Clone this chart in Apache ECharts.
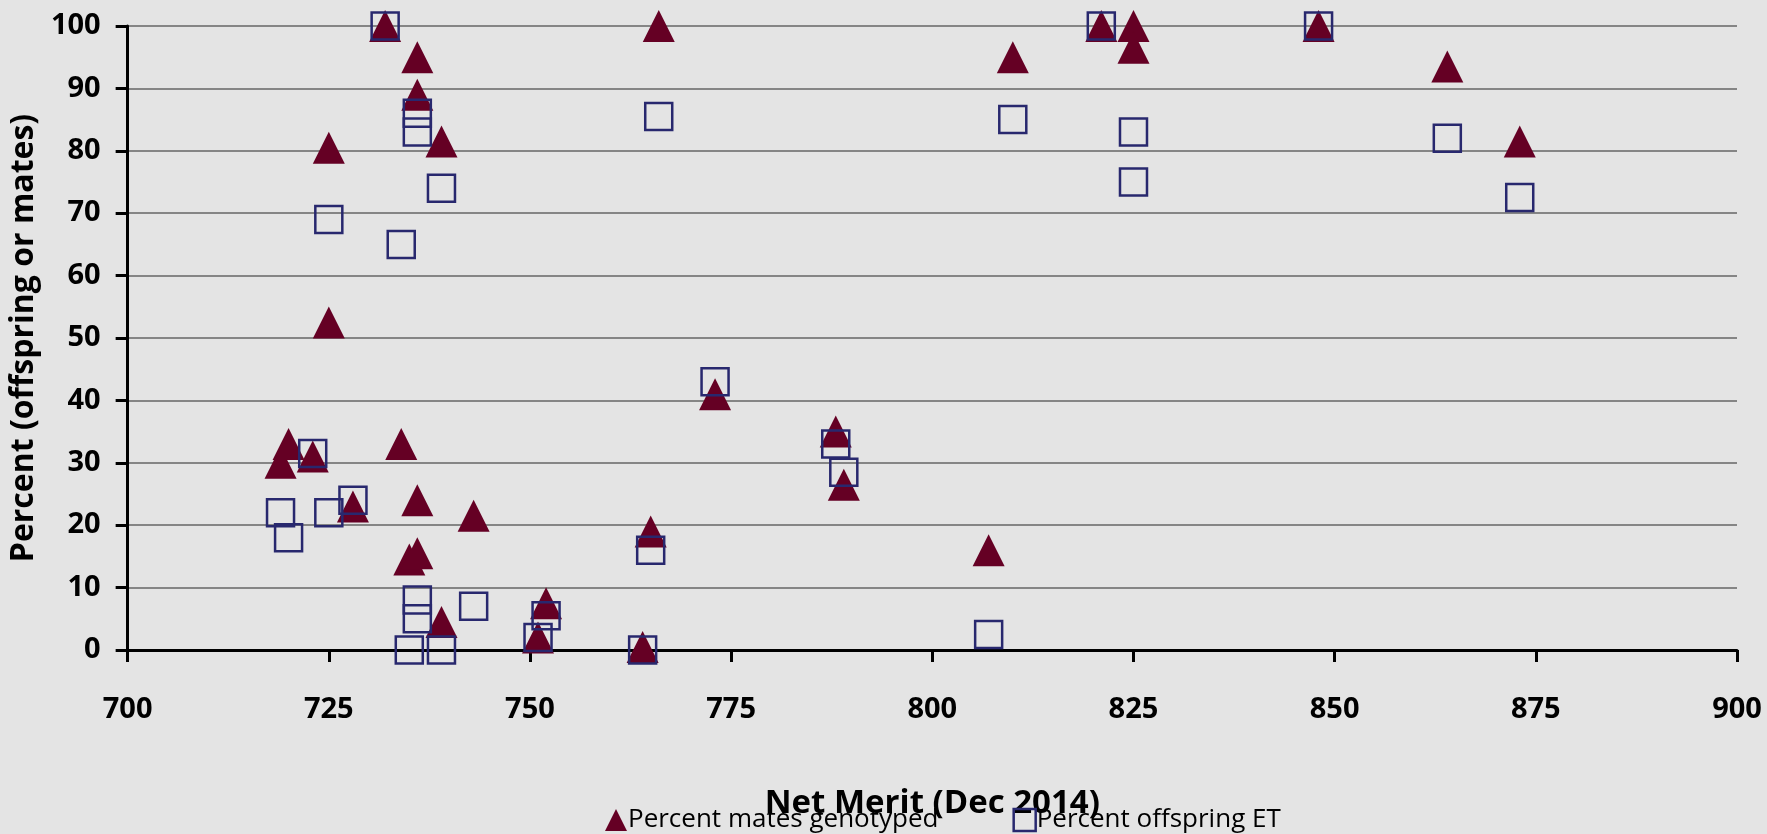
<!DOCTYPE html>
<html>
<head>
<meta charset="utf-8">
<script src="https://cdn.jsdelivr.net/npm/echarts@6/dist/echarts.min.js"></script>
<style>
html,body{margin:0;padding:0;background:#e4e4e4;}
#chart{width:1767px;height:834px;}
</style>
</head>
<body>
<div id="chart"></div>
<script>
// Net Merit (Dec 2014) and percent of mates genotyped
const matesNM  = [719, 720, 723, 725, 725, 728, 732, 734, 735, 736, 736, 736, 736, 739, 739, 743, 751, 752, 764, 765, 766, 773, 788, 789, 807, 810, 821, 825, 825, 848, 864, 873];
const matesPct = [30, 33, 31, 80.5, 52.5, 23, 100, 33, 14.5, 95, 89, 24, 15.5, 81.5, 4.5, 21.5, 2, 7.5, 0.5, 19, 100, 41, 35, 26.5, 16, 95, 100, 100, 96.5, 100, 93.5, 81.5];
// Net Merit (Dec 2014) and percent of offspring from ET
const etNM  = [719, 720, 723, 725, 725, 728, 732, 734, 735, 736, 736, 736, 736, 739, 739, 743, 751, 752, 764, 765, 766, 773, 788, 789, 807, 810, 821, 825, 825, 848, 864, 873];
const etPct = [22, 18, 31.5, 69, 22, 24, 100, 65, 0, 86, 83, 8, 5, 74, 0, 7, 2, 5.5, 0, 16, 85.5, 43, 33, 28.5, 2.5, 85, 100, 83, 75, 100, 82, 72.5];

const seriesNames = ['Percent mates genotyped', 'Percent offspring ET'];
const xTicks = [700, 725, 750, 775, 800, 825, 850, 875, 900];
const yTicks = [0, 10, 20, 30, 40, 50, 60, 70, 80, 90, 100];
const xTitle = 'Net Merit (Dec 2014)';
const yTitle = 'Percent (offspring or mates)';

const FONT = "'Open Sans', 'Noto Sans', sans-serif";
const zip = (a, b) => a.map((v, i) => [v, b[i]]);

const chart = echarts.init(document.getElementById('chart'), null, {renderer: 'canvas'});
chart.setOption({
  backgroundColor: '#e4e4e4',
  animation: false,
  grid: {left: 120, right: 30, top: 26, bottom: 184, containLabel: false},
  legend: {
    bottom: -4,
    left: 600,
    itemGap: 74,
    itemWidth: 22,
    itemHeight: 22,
    textStyle: {fontFamily: FONT, fontSize: 26, color: '#000', padding: [0, 0, 0, -4]},
    data: [
      {name: seriesNames[0], icon: 'triangle'},
      {name: seriesNames[1], icon: 'rect', itemStyle: {color: 'rgba(0,0,0,0)', borderColor: '#28286e', borderWidth: 2.5}}
    ]
  },
  xAxis: {
    type: 'value',
    min: xTicks[0], max: xTicks[xTicks.length - 1], interval: 25,
    name: xTitle, nameLocation: 'middle', nameGap: 137,
    nameTextStyle: {fontFamily: FONT, fontSize: 33, fontWeight: 'bold', color: '#000'},
    axisLine: {show: true, onZero: false, lineStyle: {color: '#000', width: 3}},
    axisTick: {show: true, length: 12, lineStyle: {color: '#000', width: 3}},
    axisLabel: {margin: 45, fontFamily: FONT, fontSize: 29, fontWeight: 'bold', color: '#000'},
    splitLine: {show: false}
  },
  yAxis: {
    type: 'value',
    min: yTicks[0], max: yTicks[yTicks.length - 1], interval: 10,
    name: yTitle, nameLocation: 'middle', nameGap: 64,
    nameTextStyle: {fontFamily: FONT, fontSize: 32, fontWeight: 'bold', color: '#000'},
    axisLine: {show: true, lineStyle: {color: '#000', width: 3}},
    axisTick: {show: true, length: 12, lineStyle: {color: '#000', width: 3}},
    axisLabel: {margin: 27, fontFamily: FONT, fontSize: 29, fontWeight: 'bold', color: '#000'},
    splitLine: {show: true, lineStyle: {color: '#858585', width: 2}}
  },
  series: [
    {
      name: seriesNames[0], type: 'scatter', symbol: 'triangle', symbolSize: 32,
      itemStyle: {color: '#650024', opacity: 1},
      data: zip(matesNM, matesPct), z: 2
    },
    {
      name: seriesNames[1], type: 'scatter', symbol: 'rect', symbolSize: 27,
      itemStyle: {color: 'rgba(0,0,0,0)', borderColor: '#28286e', borderWidth: 2.5, opacity: 1},
      data: zip(etNM, etPct), z: 3
    }
  ]
});
</script>
</body>
</html>
